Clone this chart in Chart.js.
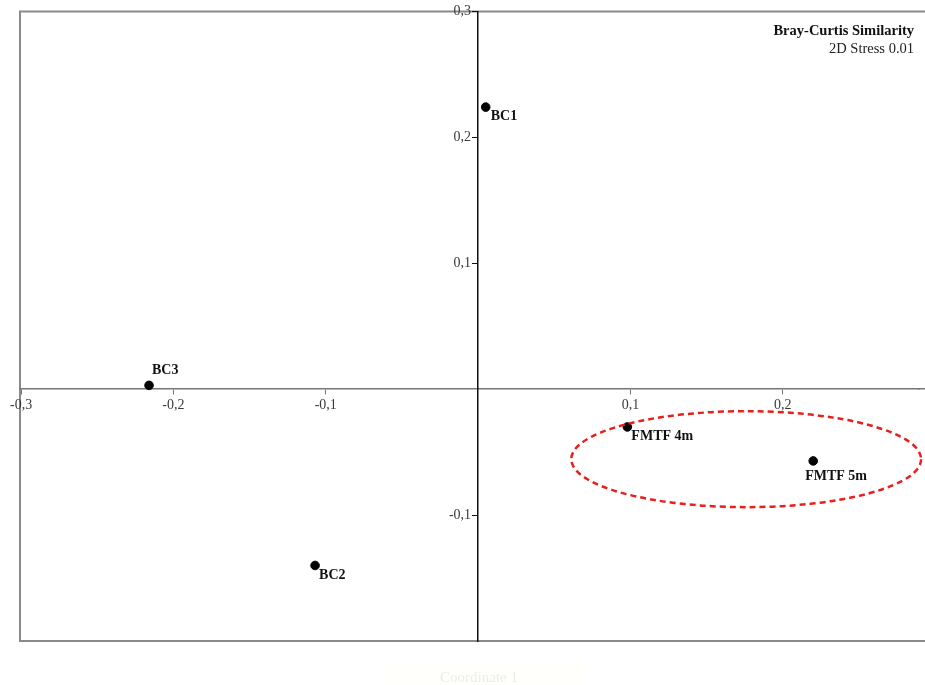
<!DOCTYPE html>
<html>
<head>
<meta charset="utf-8">
<script src="https://cdn.jsdelivr.net/npm/chart.js@4"></script>
<style>
  body { margin: 0; background: #fff; }
  canvas { display: block; }
</style>
</head>
<body>
<canvas id="nmdsChart" width="925" height="685"></canvas>
<script>
// nMDS ordination, Bray-Curtis similarity
const sites = ['BC1', 'BC3', 'BC2', 'FMTF 4m', 'FMTF 5m'];
const coord1 = [0.005, -0.216, -0.107, 0.098, 0.220];
const coord2 = [0.224, 0.003, -0.140, -0.030, -0.057];

const xTicks = [-0.3, -0.2, -0.1, 0.1, 0.2];
const yTicks = [0.3, 0.2, 0.1, -0.1];

// grouping ellipse around the FMTF samples: centre and radii in axis units
const groupCentre = [0.176, -0.0556];
const groupRadii = [0.1148, 0.0381];

const serif = '"Liberation Serif", "Times New Roman", serif';
const fmt = v => v.toFixed(1).replace('.', ',');

// where each site name sits relative to its point (px)
const labelShift = {
    'BC1': [5, 9],
    'BC3': [3, -15],
    'BC2': [4, 10],
    'FMTF 4m': [4, 9],
    'FMTF 5m': [-8, 15]
};

const framePlugin = {
    id: 'frame',
    beforeDraw(chart) {
        const {ctx, chartArea: a} = chart;
        ctx.save();
        ctx.strokeStyle = '#8a8a8a';
        ctx.lineWidth = 2;
        ctx.beginPath();
        ctx.moveTo(chart.width + 2, a.top);
        ctx.lineTo(a.left, a.top);
        ctx.lineTo(a.left, a.bottom);
        ctx.lineTo(chart.width + 2, a.bottom);
        ctx.stroke();
        // x axis line runs on to the edge of the canvas (snapped like the axis border)
        const y0 = Math.round(chart.scales.y.getPixelForValue(0) - 0.75) + 0.75;
        ctx.strokeStyle = '#777';
        ctx.lineWidth = 1.5;
        ctx.beginPath();
        ctx.moveTo(a.right - 2, y0);
        ctx.lineTo(chart.width, y0);
        ctx.stroke();
        // pale box behind the axis caption
        ctx.fillStyle = '#fffffb';
        ctx.fillRect(383, 662, 202, 23);
        ctx.restore();
    },
    afterDraw(chart) {
        const {ctx, scales: {x, y}} = chart;
        ctx.save();

        // dashed group ellipse
        const cx = x.getPixelForValue(groupCentre[0]);
        const cy = y.getPixelForValue(groupCentre[1]);
        const rx = x.getPixelForValue(groupCentre[0] + groupRadii[0]) - cx;
        const ry = cy - y.getPixelForValue(groupCentre[1] + groupRadii[1]);
        ctx.strokeStyle = '#e8201c';
        ctx.lineWidth = 2.5;
        ctx.setLineDash([6, 4]);
        ctx.beginPath();
        ctx.ellipse(cx, cy, rx, ry, 0, 0, Math.PI * 2);
        ctx.stroke();
        ctx.setLineDash([]);

        // site names
        ctx.fillStyle = '#111';
        ctx.font = 'bold 14px ' + serif;
        ctx.textAlign = 'left';
        ctx.textBaseline = 'middle';
        sites.forEach((name, i) => {
            const px = x.getPixelForValue(coord1[i]);
            const py = y.getPixelForValue(coord2[i]);
            const [dx, dy] = labelShift[name];
            ctx.fillText(name, px + dx, py + dy);
        });

        // stress note
        ctx.textAlign = 'right';
        ctx.font = 'bold 14.5px ' + serif;
        ctx.fillText('Bray-Curtis Similarity', 914, 31);
        ctx.font = '14.5px ' + serif;
        ctx.fillStyle = '#222';
        ctx.fillText('2D Stress 0.01', 914, 49);

        // faint axis caption
        ctx.textAlign = 'center';
        ctx.font = '15px ' + serif;
        ctx.fillStyle = '#ececec';
        ctx.fillText('Coordinate 1', 479, 678);
        ctx.restore();
    }
};

new Chart(document.getElementById('nmdsChart'), {
    type: 'scatter',
    data: {
        datasets: [{
            data: coord1.map((v, i) => ({x: v, y: coord2[i]})),
            backgroundColor: '#000',
            borderColor: '#000',
            pointRadius: 4.3,
            pointHoverRadius: 4.3
        }]
    },
    options: {
        responsive: false,
        animation: false,
        layout: {padding: {left: 20, top: 11, right: 0, bottom: 44}},
        plugins: {legend: {display: false}, tooltip: {enabled: false}},
        scales: {
            x: {
                type: 'linear',
                min: -0.3007,
                max: 0.2899,
                position: {y: 0},
                afterBuildTicks: s => { s.ticks = xTicks.map(v => ({value: v})); },
                ticks: {
                    callback: v => fmt(v),
                    font: {family: serif, size: 14},
                    color: '#3a3a3a',
                    padding: 3,
                    maxRotation: 0,
                    autoSkip: false
                },
                grid: {drawOnChartArea: false, tickLength: 5, color: '#777'},
                border: {display: true, color: '#777', width: 1.5}
            },
            y: {
                type: 'linear',
                min: -0.2,
                max: 0.3,
                position: {x: 0},
                afterBuildTicks: s => { s.ticks = yTicks.map(v => ({value: v})); },
                ticks: {
                    // labels are right-aligned on the axis line; pad them clear of the tick marks
                    callback: v => fmt(v) + '  ',
                    font: {family: serif, size: 14},
                    color: '#3a3a3a',
                    autoSkip: false
                },
                grid: {drawOnChartArea: false, tickLength: 5, color: '#111'},
                border: {display: true, color: '#111', width: 1.5}
            }
        }
    },
    plugins: [framePlugin]
});
</script>
</body>
</html>
